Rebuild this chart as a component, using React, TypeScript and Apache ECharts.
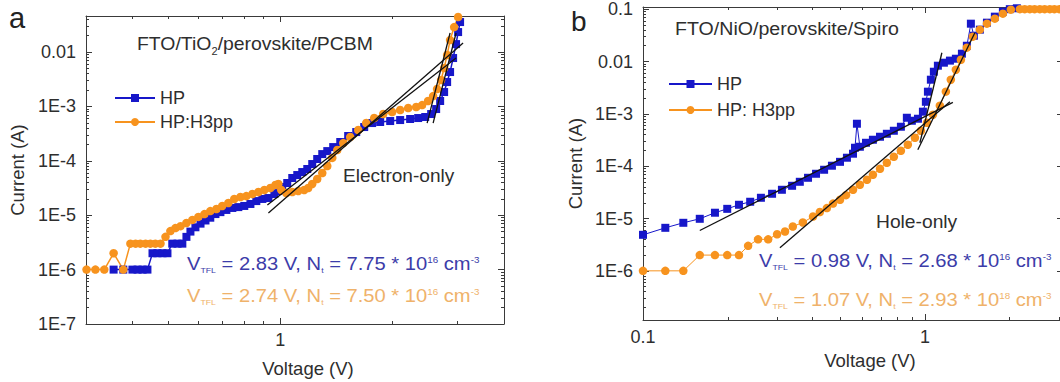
import React, { useEffect, useRef } from "react";
import * as echarts from "echarts";

const FONT = "'Liberation Sans', Arial, Helvetica, sans-serif";
const TXT = "#2e2e2e";
const BLUE = "#1717c9";
const ORANGE = "#f7931e";
const BLUE_TXT = "#3c3ca9";
const ORANGE_TXT = "#efb26a";

// ---------- Panel a : FTO/TiO2/perovskite/PCBM (electron-only) ----------
const hpA: [number, number][] = [
  [0.356, 1e-6], [0.378, 1e-6], [0.4, 1e-6], [0.413, 1e-6], [0.426, 1e-6], [0.439, 1e-6],
  [0.453, 2e-6], [0.467, 2e-6], [0.482, 2e-6], [0.497, 2e-6], [0.512, 3e-6], [0.529, 3e-6],
  [0.545, 3e-6], [0.559, 4e-6], [0.573, 5e-6], [0.591, 6e-6], [0.61, 7e-6], [0.629, 8e-6],
  [0.648, 9e-6], [0.669, 1.05e-5], [0.69, 1.14e-5], [0.716, 1.25e-5], [0.743, 1.36e-5],
  [0.771, 1.41e-5], [0.8, 1.48e-5], [0.831, 1.61e-5], [0.862, 1.82e-5], [0.895, 1.99e-5],
  [0.929, 2.07e-5], [0.964, 2.45e-5], [0.988, 2.79e-5], [1.012, 3.3e-5], [1.044, 3.91e-5],
  [1.077, 4.83e-5], [1.111, 5.48e-5], [1.146, 6.22e-5], [1.182, 7.07e-5], [1.219, 8.73e-5],
  [1.257, 1.08e-4], [1.297, 1.33e-4], [1.338, 1.51e-4], [1.388, 1.79e-4], [1.45, 2.22e-4],
  [1.523, 2.86e-4], [1.601, 3.38e-4], [1.682, 4.18e-4], [1.767, 4.95e-4], [1.857, 5.17e-4],
  [1.976, 5.39e-4], [2.102, 5.62e-4], [2.236, 5.87e-4], [2.35, 6.12e-4], [2.455, 6.39e-4],
  [2.547, 7.25e-4], [2.627, 8.96e-4], [2.693, 1.26e-3], [2.76, 1.84e-3], [2.812, 2.81e-3],
  [2.864, 4.29e-3], [2.918, 7.76e-3], [2.972, 1.4e-2], [3.01, 2.33e-2], [3.047, 3.56e-2],
];
const h3A: [number, number][] = [
  [0.301, 1e-6], [0.318, 1e-6], [0.336, 1e-6], [0.356, 2e-6], [0.378, 1e-6], [0.395, 3e-6],
  [0.408, 3e-6], [0.42, 3e-6], [0.434, 3e-6], [0.447, 3e-6], [0.461, 3e-6], [0.476, 3e-6],
  [0.491, 4e-6], [0.506, 5.1e-6], [0.522, 5.8e-6], [0.539, 6.3e-6], [0.559, 7.2e-6],
  [0.58, 8.2e-6], [0.602, 9.3e-6], [0.625, 1.05e-5], [0.648, 1.19e-5], [0.673, 1.3e-5],
  [0.698, 1.48e-5], [0.725, 1.68e-5], [0.752, 1.99e-5], [0.781, 2.16e-5], [0.81, 2.25e-5],
  [0.841, 2.45e-5], [0.873, 2.67e-5], [0.906, 2.91e-5], [0.94, 3.16e-5], [0.97, 3.59e-5],
  [0.988, 3.75e-5], [1.006, 2.91e-5], [1.038, 2.56e-5], [1.077, 2.67e-5], [1.118, 2.79e-5],
  [1.16, 2.91e-5], [1.189, 3.16e-5], [1.219, 3.75e-5], [1.257, 4.63e-5], [1.297, 5.97e-5],
  [1.338, 8.02e-5], [1.38, 1.13e-4], [1.423, 1.58e-4], [1.477, 2.12e-4], [1.542, 2.74e-4],
  [1.621, 3.68e-4], [1.703, 4.95e-4], [1.789, 6.12e-4], [1.892, 7.25e-4], [2.0, 7.89e-4],
  [2.102, 8.59e-4], [2.209, 9.35e-4], [2.321, 9.75e-4], [2.408, 1.06e-3], [2.499, 1.26e-3],
  [2.578, 1.55e-3], [2.642, 2.09e-3], [2.709, 3.06e-3], [2.76, 5.08e-3], [2.812, 8.81e-3],
  [2.864, 1.66e-2], [2.937, 2.88e-2], [3.01, 4.4e-2],
];
const fitA1: [number, number][] = [[0.929, 1.1e-5], [3.104, 1.46e-2]];
const fitA2: [number, number][] = [[0.923, 1.54e-5], [2.972, 7.76e-3]];
const fitA3: [number, number][] = [[2.484, 4.95e-4], [2.864, 2.24e-2]];
const fitA4: [number, number][] = [[2.578, 4.95e-4], [2.972, 2.24e-2]];

// ---------- Panel b : FTO/NiO/perovskite/Spiro (hole-only) ----------
const hpB: [number, number][] = [
  [0.1, 4.88e-6], [0.12, 6.64e-6], [0.139, 8.28e-6], [0.159, 9.87e-6], [0.18, 1.29e-5],
  [0.199, 1.53e-5], [0.219, 1.83e-5], [0.24, 2.09e-5], [0.262, 2.49e-5], [0.287, 2.97e-5],
  [0.311, 3.54e-5], [0.338, 4.22e-5], [0.36, 5.03e-5], [0.385, 6.0e-5], [0.411, 7.16e-5],
  [0.439, 8.54e-5], [0.468, 1.02e-4], [0.5, 1.21e-4], [0.529, 1.45e-4], [0.556, 1.73e-4],
  [0.565, 2.25e-4], [0.574, 6.47e-4], [0.588, 2.35e-4], [0.618, 2.8e-4], [0.654, 3.2e-4],
  [0.693, 3.65e-4], [0.733, 4.16e-4], [0.776, 4.75e-4], [0.822, 5.67e-4], [0.863, 8.42e-4],
  [0.899, 7.38e-4], [0.945, 8.06e-4], [0.984, 1.1e-3], [1.008, 1.7e-3], [1.025, 2.65e-3],
  [1.05, 4.49e-3], [1.076, 6.38e-3], [1.112, 8.31e-3], [1.168, 9.49e-3], [1.227, 1.04e-2],
  [1.288, 1.13e-2], [1.353, 1.41e-2], [1.409, 2.0e-2], [1.456, 5.28e-2], [1.492, 3.11e-2],
  [1.567, 4.06e-2], [1.66, 5.52e-2], [1.771, 7.19e-2], [1.891, 8.96e-2], [2.001, 0.1],
  [2.12, 0.104],
];
const h3B: [number, number][] = [
  [0.1, 1e-6], [0.12, 1e-6], [0.139, 1e-6], [0.159, 2e-6], [0.18, 2e-6], [0.199, 2e-6],
  [0.219, 2e-6], [0.236, 3e-6], [0.256, 4e-6], [0.278, 4e-6], [0.299, 5e-6], [0.319, 5.64e-6],
  [0.34, 7.03e-6], [0.369, 8.39e-6], [0.401, 1.09e-5], [0.424, 1.33e-5], [0.449, 1.58e-5],
  [0.472, 1.93e-5], [0.5, 2.28e-5], [0.525, 2.79e-5], [0.556, 3.54e-5], [0.588, 4.41e-5],
  [0.623, 5.5e-5], [0.654, 6.85e-5], [0.693, 8.92e-5], [0.733, 1.16e-4], [0.776, 1.51e-4],
  [0.822, 1.97e-4], [0.87, 2.57e-4], [0.922, 3.49e-4], [0.968, 4.75e-4], [1.017, 6.76e-4],
  [1.068, 9.61e-4], [1.13, 1.43e-3], [1.187, 2.65e-3], [1.236, 4.49e-3], [1.288, 6.97e-3],
  [1.342, 1.08e-2], [1.409, 1.84e-2], [1.48, 2.98e-2], [1.567, 4.06e-2], [1.66, 5.28e-2],
  [1.771, 6.58e-2], [1.891, 8.2e-2], [2.018, 9.78e-2], [2.173, 0.1], [2.26, 0.1],
  [2.357, 0.1], [2.45, 0.1], [2.557, 0.1], [2.66, 0.1], [2.775, 0.1], [2.88, 0.1], [3.0, 0.1],
];
const fitB1: [number, number][] = [[0.159, 5.9e-6], [1.257, 1.65e-3]];
const fitB2: [number, number][] = [[0.306, 2.75e-6], [1.227, 1.7e-3]];
const fitB3: [number, number][] = [[0.96, 2.8e-4], [1.149, 1.47e-2]];
const fitB4: [number, number][] = [[0.944, 2.06e-4], [1.504, 3.55e-2]];

// ---------- ticks ----------
const MULT = [2, 3, 4, 5, 6, 7, 8, 9];
const minorOf = (decades: number[]) =>
  decades.flatMap((d) => MULT.map((m) => +(d * m).toPrecision(3)));

const xLabelsA = [1];
const xMajorA = [1];
const xMinorA = [0.3, 0.4, 0.5, 0.6, 0.7, 0.8, 0.9, 2, 3, 4];
const yMajorA = [1e-7, 1e-6, 1e-5, 1e-4, 1e-3, 1e-2];
const yMinorA = minorOf([1e-7, 1e-6, 1e-5, 1e-4, 1e-3, 1e-2]);

const xLabelsB = [0.1, 1];
const xMajorB = [0.1, 1];
const xMinorB = [0.2, 0.3, 0.4, 0.5, 0.6, 0.7, 0.8, 0.9, 2, 3];
const yMajorB = [1e-6, 1e-5, 1e-4, 1e-3, 1e-2, 0.1];
const yMinorB = minorOf([1e-7, 1e-6, 1e-5, 1e-4, 1e-3, 1e-2]);

const yFmt = (v: number) => (v >= 0.01 ? String(+v.toPrecision(2)) : "1E" + Math.round(Math.log10(v)));
const xFmt = (v: number) => String(+v.toPrecision(2));

function axes(
  dim: "x" | "y",
  gridIndex: number,
  min: number,
  max: number,
  major: number[],
  minor: number[],
  labels: number[],
  fmt: (v: number) => string,
  name: string,
  nameGap: number,
  namePadding: number[],
  labelMargin: number
) {
  const p1 = dim === "x" ? "bottom" : "left";
  const p2 = dim === "x" ? "top" : "right";
  const base = { type: "log", logBase: 10, gridIndex, min, max, splitLine: { show: false }, minorTick: { show: false }, silent: true };
  const line = { show: true, lineStyle: { color: "#3a3a3a", width: 1 } };
  const tickStyle = { color: "#3a3a3a", width: 1 };
  return [
    {
      ...base,
      position: p1,
      axisLine: line,
      axisTick: { show: true, inside: true, length: 6, customValues: major, lineStyle: tickStyle },
      axisLabel: { show: true, customValues: labels, formatter: fmt, fontSize: 18, color: TXT, fontFamily: FONT, margin: labelMargin },
      name,
      nameLocation: "middle",
      nameGap,
      nameRotate: dim === "y" ? 90 : 0,
      nameTextStyle: { fontSize: 18.5, color: TXT, fontFamily: FONT, padding: namePadding },
    },
    {
      ...base,
      position: p1,
      axisLine: { show: false },
      axisTick: { show: true, inside: true, length: 3, customValues: minor, lineStyle: tickStyle },
      axisLabel: { show: false },
    },
    {
      ...base,
      position: p2,
      axisLine: line,
      axisTick: { show: true, inside: true, length: 6, customValues: major, lineStyle: tickStyle },
      axisLabel: { show: false },
    },
    {
      ...base,
      position: p2,
      axisLine: { show: false },
      axisTick: { show: true, inside: true, length: 3, customValues: minor, lineStyle: tickStyle },
      axisLabel: { show: false },
    },
  ];
}

function dataSeries(name: string, data: [number, number][], axis: number, color: string, symbol: string, size: number, lw: number) {
  return {
    type: "line",
    name,
    data,
    xAxisIndex: axis,
    yAxisIndex: axis,
    symbol,
    symbolSize: size,
    showSymbol: true,
    lineStyle: { color, width: lw },
    itemStyle: { color },
    z: 2,
    silent: true,
  };
}

function fitSeries(data: [number, number][], axis: number) {
  return {
    type: "line",
    data,
    xAxisIndex: axis,
    yAxisIndex: axis,
    symbol: "none",
    lineStyle: { color: "#111111", width: 1.3 },
    z: 4,
    silent: true,
  };
}

function txt(x: number, baseline: number, text: string, fontSize: number, fill: string, sx = 1.1, rich?: any) {
  const lh = Math.round(fontSize * 1.3);
  return {
    type: "text",
    x,
    y: baseline - (lh / 2 + 0.3465 * fontSize),
    scaleX: sx,
    silent: true,
    style: {
      text,
      fill,
      fontSize,
      fontFamily: FONT,
      lineHeight: lh,
      align: "left",
      verticalAlign: "top",
      textAlign: "left",
      textVerticalAlign: "top",
      rich,
    },
  };
}

const annRich = (c: string) => ({
  s: { fontSize: 8, height: 11, verticalAlign: "bottom", fill: c, color: c, fontFamily: FONT },
  p: { fontSize: 9, height: 16, verticalAlign: "top", fill: c, color: c, fontFamily: FONT },
});
const titleRich = {
  s: { fontSize: 10, height: 8, verticalAlign: "bottom", fill: TXT, color: TXT, fontFamily: FONT },
};

export default function App() {
  const ref = useRef<HTMLDivElement>(null);
  useEffect(() => {
    if (!ref.current) return;
    const chart = echarts.init(ref.current, undefined, { renderer: "svg" });
    const xAxis = [
      ...axes("x", 0, 0.3, 4, xMajorA, xMinorA, xLabelsA, xFmt, "Voltage (V)", 35, [0, 0, 0, 26], 7),
      ...axes("x", 1, 0.1, 3.09, xMajorB, xMinorB, xLabelsB, xFmt, "Voltage (V)", 22, [0, 0, 0, 34], 8),
    ];
    const yAxis = [
      ...axes("y", 0, 1e-7, 0.046, yMajorA, yMinorA, yMajorA, yFmt, "Current (A)", 59, [0, 0, 0, 0], 10),
      ...axes("y", 1, 1.15e-7, 0.11, yMajorB, yMinorB, yMajorB, yFmt, "Current (A)", 58, [0, 0, 0, 0], 10),
    ];
    const option: any = {
      animation: false,
      backgroundColor: "#ffffff",
      textStyle: { fontFamily: FONT },
      grid: [
        { left: 86, top: 16, width: 418, height: 308, outerBoundsMode: "none", containLabel: false },
        { left: 643, top: 7, width: 420, height: 313, outerBoundsMode: "none", containLabel: false },
      ],
      xAxis,
      yAxis,
      legend: [
        {
          data: ["HP", "HP:H3pp"],
          orient: "vertical",
          left: 114,
          top: 89,
          padding: 0,
          itemWidth: 40,
          itemHeight: 10,
          itemGap: 6,
          selectedMode: false,
          textStyle: { fontSize: 18, color: TXT, fontFamily: FONT },
        },
        {
          data: ["HP", "HP: H3pp"],
          orient: "vertical",
          left: 668,
          top: 75,
          padding: 0,
          itemWidth: 43,
          itemHeight: 10,
          itemGap: 8,
          selectedMode: false,
          textStyle: { fontSize: 18, color: TXT, fontFamily: FONT },
        },
      ],
      series: [
        dataSeries("HP", hpA, 0, BLUE, "rect", 8, 1.5),
        dataSeries("HP:H3pp", h3A, 0, ORANGE, "circle", 8.5, 1.5),
        fitSeries(fitA1, 0),
        fitSeries(fitA2, 0),
        fitSeries(fitA3, 0),
        fitSeries(fitA4, 0),
        dataSeries("HP", hpB, 4, BLUE, "rect", 8, 1),
        dataSeries("HP: H3pp", h3B, 4, ORANGE, "circle", 8.5, 1),
        fitSeries(fitB1, 4),
        fitSeries(fitB2, 4),
        fitSeries(fitB3, 4),
        fitSeries(fitB4, 4),
      ],
      graphic: [
        txt(9, 28, "a", 29, "#222222", 1),
        txt(571, 31.5, "b", 28, "#222222", 1),
        txt(137, 50, "FTO/TiO{s|2}/perovskite/PCBM", 17.5, TXT, 1.11, titleRich),
        txt(675, 35, "FTO/NiO/perovskite/Spiro", 17.5, TXT, 1.12),
        txt(343, 182, "Electron-only", 17.5, TXT, 1.09),
        txt(876, 228, "Hole-only", 17.5, TXT, 1.1),
        txt(187, 270, "V{s|TFL} = 2.83 V, N{s|t} = 7.75 * 10{p|16} cm{p|-3}", 18.5, BLUE_TXT, 1.09, annRich(BLUE_TXT)),
        txt(187, 302, "V{s|TFL} = 2.74 V, N{s|t} = 7.50 * 10{p|16} cm{p|-3}", 18.5, ORANGE_TXT, 1.09, annRich(ORANGE_TXT)),
        txt(759, 267, "V{s|TFL} = 0.98 V, N{s|t} = 2.68 * 10{p|16} cm{p|-3}", 18.5, BLUE_TXT, 1.09, annRich(BLUE_TXT)),
        txt(759, 306, "V{s|TFL} = 1.07 V, N{s|t} = 2.93 * 10{p|18} cm{p|-3}", 18.5, ORANGE_TXT, 1.09, annRich(ORANGE_TXT)),
      ],
    };
    chart.setOption(option);
    return () => chart.dispose();
  }, []);
  return (
    <div style={{ position: "absolute", left: 0, top: 0, width: 1060, height: 382, overflow: "hidden", background: "#fff" }}>
      <div ref={ref} style={{ width: 1090, height: 382 }} />
    </div>
  );
}
